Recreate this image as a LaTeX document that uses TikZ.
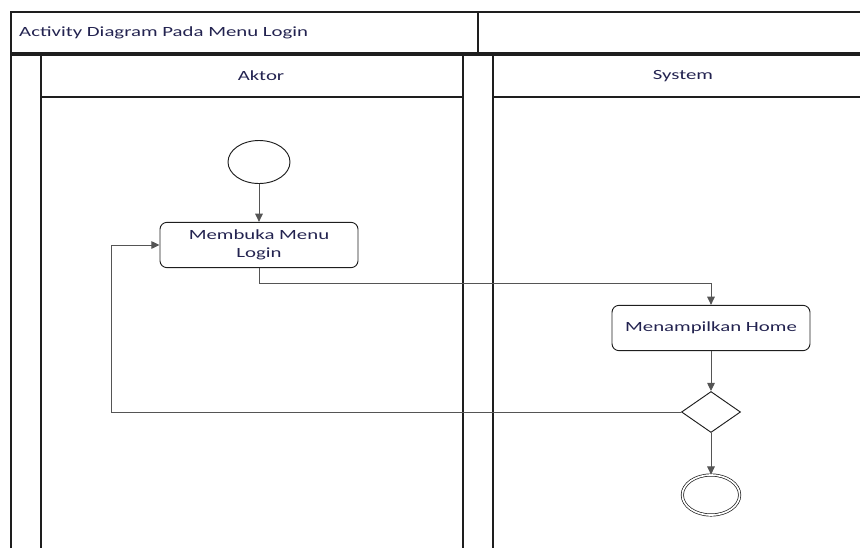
\documentclass[tikz,border=0pt]{standalone}
\usepackage{fontspec}
\setmainfont{Carlito}[FakeStretch=1.48]
\usetikzlibrary{shapes.geometric,arrows.meta}
\definecolor{lanegray}{RGB}{30,30,30}
\definecolor{flowgray}{RGB}{85,85,85}
\definecolor{labelblue}{RGB}{35,35,80}

\begin{document}
\begin{tikzpicture}[x=0.03cm,y=-0.03cm,>={Triangle[length=7pt,width=6.5pt]},
    lane/.style={draw=lanegray,line width=0.9pt},
    txt/.style={text=labelblue,font=\fontsize{12}{15}\selectfont,inner sep=0pt},
    activity/.style={draw=lanegray,line width=0.8pt,rounded corners=6pt,minimum width=5.94cm,minimum height=1.36cm,align=center,txt},
    start/.style={draw=lanegray,line width=0.8pt,ellipse,minimum width=1.86cm,minimum height=1.29cm},
    finish/.style={draw=lanegray,line width=0.6pt,ellipse,double,double distance=1.4pt,minimum width=1.72cm,minimum height=1.2cm},
    decision/.style={draw=lanegray,line width=0.8pt,diamond,inner sep=0pt,minimum width=1.77cm,minimum height=1.23cm},
    flow/.style={->,draw=flowgray,line width=0.8pt}]
    \useasboundingbox (0,0) rectangle (860,548);
    \draw[lane] (11,548) -- (11,12) -- (870,12) (11,53) -- (870,53) (478,12) -- (478,53);
    \draw[lane] (11,55) -- (870,55) (41,55) -- (41,548) (463,55) -- (463,548)
    (493,55) -- (493,548) (41,97) -- (463,97) (493,97) -- (870,97);
    \node[txt,anchor=west] (title) at (19,33) {Activity Diagram Pada Menu Login};
    \node[txt] (aktor) at (261,76) {Aktor};
    \node[txt] (system) at (683,76) {System};
    \node[start] (mulai) at (259,162) {};
    \node[activity] (membuka) at (259,245) {Membuka Menu\\Login};
    \node[activity] (home) at (711,328) {Menampilkan Home};
    \node[decision] (cek) at (711,412) {};
    \node[finish] (selesai) at (711,495) {};
    \coordinate (turn) at (259,283);
    \coordinate (back) at (111,412);
    \draw[flow] (mulai) -- (membuka);
    \draw[flow] (membuka) -- (turn) -| (home);
    \draw[flow] (home) -- (cek);
    \draw[flow] (cek) -- (selesai);
    \draw[flow] (cek) -- (back) |- (membuka);
  \end{tikzpicture}
\end{document}
